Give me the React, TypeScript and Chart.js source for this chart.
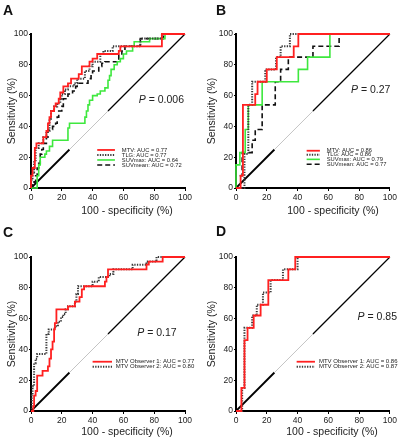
import React, { useEffect, useRef } from "react";
import { Chart, registerables } from "chart.js";
Chart.register(...registerables);

const FONT = "'Liberation Sans', Arial, Helvetica, sans-serif";
const TICKS = [0, 20, 40, 60, 80, 100];
const DIAG = [0, 25, 50, 100];

// Panel A (points where the curve rises: false-positive rate -> sensitivity)
const A_MTV_FPR = [0, 1, 2.5, 3.5, 8, 10, 11, 12, 13, 15, 16, 18, 19, 21, 24, 26, 31, 33, 38, 40, 43, 57, 58, 85, 100];
const A_MTV_TPR = [8, 13, 26, 29, 33, 37, 42, 46, 50, 53, 55, 58, 62, 66, 68, 71, 74, 79, 82, 84, 87, 89, 92, 100, 100];
const A_TLG_FPR = [0, 1, 2, 3, 5, 8, 10, 12, 13, 15, 17, 19, 20, 22, 24, 28, 30, 35, 38, 40, 45, 47, 53, 71, 85, 100];
const A_TLG_TPR = [5, 10, 18, 26, 29, 33, 37, 45, 50, 53, 55, 58, 61, 64, 66, 68, 71, 76, 79, 82, 87, 89, 92, 97, 100, 100];
const A_SUVMAX_FPR = [4, 5, 6, 9, 10, 12, 14, 24, 25, 34, 35, 36, 37, 38, 40, 43, 45, 48, 50, 51, 52, 54, 56, 58, 60, 62, 66, 67, 77, 87, 100];
const A_SUVMAX_TPR = [8, 15, 20, 22, 24, 27, 31, 39, 42, 42, 46, 50, 54, 57, 60, 61, 63, 65, 70, 73, 77, 80, 82, 84, 87, 89, 92, 95, 97, 100, 100];
const A_SUVMEAN_FPR = [1, 2, 3, 4, 5, 6, 7, 8, 10, 11, 14, 16, 17, 18, 20, 21, 24, 27, 29, 30, 37, 39, 40, 44, 46, 48, 57, 59, 61, 71, 86, 100];
const A_SUVMEAN_TPR = [2, 4, 8, 13, 16, 22, 25, 29, 33, 38, 40, 42, 46, 50, 53, 58, 61, 63, 66, 68, 71, 74, 76, 79, 81, 82, 86, 89, 92, 97, 100, 100];

// Panel B
const B_MTV_FPR = [3, 4.5, 12.5, 14, 20, 26.5, 37.5, 40.5, 100];
const B_MTV_TPR = [8, 54, 61, 69, 77, 85, 92, 100, 100];
const B_TLG_FPR = [5.5, 8, 10.5, 19, 26, 29, 35, 100];
const B_TLG_TPR = [22, 54, 69, 77, 85, 92, 100, 100];
const B_SUVMAX_FPR = [0, 2.5, 6, 8, 17, 40.5, 46.5, 61, 100];
const B_SUVMAX_TPR = [15, 23, 38, 54, 69, 77, 85, 100, 100];
const B_SUVMEAN_FPR = [0, 4, 10.5, 12.5, 17, 25.5, 29, 34, 50, 67, 100];
const B_SUVMEAN_TPR = [8, 23, 31, 38, 54, 69, 77, 85, 92, 100, 100];

// Panel C
const C_OBS1_FPR = [1.5, 2, 3, 4, 7.5, 11, 12, 13, 14, 15, 15.5, 16.5, 24, 28.5, 31.5, 33, 34.5, 48, 49, 50, 75, 76.5, 85.5, 100];
const C_OBS1_TPR = [3, 10, 13, 23, 26, 29, 34, 40, 45, 53, 57, 66, 68, 71, 74, 79, 81, 84, 87, 92, 95, 97, 100, 100];
const C_OBS2_FPR = [0.5, 1, 2, 3, 4, 10, 11.5, 15.5, 17.5, 19.5, 21, 22.5, 24, 28.5, 29.5, 30.5, 40, 44, 51, 53.5, 66, 75, 81.5, 100];
const C_OBS2_TPR = [10, 16, 31, 34, 37, 50, 53, 55, 58, 61, 63, 66, 68, 71, 76, 81, 84, 87, 89, 92, 95, 97, 100, 100];

// Panel D
const D_OBS1_FPR = [3.5, 5.5, 7.5, 11.5, 16, 21, 34, 38.5, 100];
const D_OBS1_TPR = [15, 46, 54, 62, 69, 85, 92, 100, 100];
const D_OBS2_FPR = [4, 5.5, 10.5, 13.5, 17.5, 22.5, 30.5, 40, 100];
const D_OBS2_TPR = [15, 54, 62, 69, 77, 85, 92, 100, 100];

const STYLE: any = {
  red: { color: "#ff2020", width: 1.8, dash: [] },
  dotted: { color: "#3a3a3a", width: 2, dash: [1.3, 1.3] },
  green: { color: "#3ee83e", width: 1.6, dash: [] },
  dashed: { color: "#111111", width: 1.6, dash: [5, 3] },
};

const PANELS: any[] = [
  {
    letter: "A", left: 0, top: 0, width: 199, letterX: 3, letterY: 15, yTitleX: 12, xTitleX: 127, xTitleY: 211,
    p: "0.006", pX: 0.70, pY: 0.43,
    legend: { x0: 0.43, x1: 0.545, tx: 0.59, rows: [0.753, 0.786, 0.818, 0.851], size: 5.8 },
    series: [
      { label: "MTV: AUC = 0.77", fpr: A_MTV_FPR, tpr: A_MTV_TPR, style: "red" },
      { label: "TLG: AUC = 0.77", fpr: A_TLG_FPR, tpr: A_TLG_TPR, style: "dotted" },
      { label: "SUVmax: AUC = 0.64", fpr: A_SUVMAX_FPR, tpr: A_SUVMAX_TPR, style: "green" },
      { label: "SUVmean: AUC = 0.72", fpr: A_SUVMEAN_FPR, tpr: A_SUVMEAN_TPR, style: "dashed" },
    ],
  },
  {
    letter: "B", left: 205, top: 0, width: 194, letterX: 11, letterY: 15, yTitleX: 7, xTitleX: 128, xTitleY: 211,
    p: "0.27", pX: 0.747, pY: 0.364,
    legend: { x0: 0.459, x1: 0.545, tx: 0.589, rows: [0.758, 0.784, 0.814, 0.846], size: 5.8 },
    series: [
      { label: "MTV: AUC = 0.86", fpr: B_MTV_FPR, tpr: B_MTV_TPR, style: "red" },
      { label: "TLG: AUC = 0.86", fpr: B_TLG_FPR, tpr: B_TLG_TPR, style: "dotted" },
      { label: "SUVmax: AUC = 0.79", fpr: B_SUVMAX_FPR, tpr: B_SUVMAX_TPR, style: "green" },
      { label: "SUVmean: AUC = 0.77", fpr: B_SUVMEAN_FPR, tpr: B_SUVMEAN_TPR, style: "dashed" },
    ],
  },
  {
    letter: "C", left: 0, top: 223, width: 199, letterX: 3, letterY: 14, yTitleX: 12, xTitleX: 127, xTitleY: 209,
    p: "0.17", pX: 0.69, pY: 0.496,
    legend: { x0: 0.40, x1: 0.526, tx: 0.55, rows: [0.68, 0.712], size: 6 },
    series: [
      { label: "MTV Observer 1: AUC = 0.77", fpr: C_OBS1_FPR, tpr: C_OBS1_TPR, style: "red" },
      { label: "MTV Observer 2: AUC = 0.80", fpr: C_OBS2_FPR, tpr: C_OBS2_TPR, style: "dotted" },
    ],
  },
  {
    letter: "D", left: 205, top: 223, width: 194, letterX: 11, letterY: 13, yTitleX: 7, xTitleX: 127, xTitleY: 209,
    p: "0.85", pX: 0.79, pY: 0.39,
    legend: { x0: 0.394, x1: 0.513, tx: 0.539, rows: [0.68, 0.712], size: 6 },
    series: [
      { label: "MTV Observer 1: AUC = 0.86", fpr: D_OBS1_FPR, tpr: D_OBS1_TPR, style: "red" },
      { label: "MTV Observer 2: AUC = 0.87", fpr: D_OBS2_FPR, tpr: D_OBS2_TPR, style: "dotted" },
    ],
  },
];

const HEIGHT = 217;
const AREA_RIGHT = 185;
const AREA_TOP = 34;
const AREA_BOTTOM = 188;

function toPoints(fpr: number[], tpr: number[]) {
  const pts = [{ x: 0, y: 0 }];
  for (let i = 0; i < fpr.length; i++) pts.push({ x: fpr[i], y: tpr[i] });
  return pts;
}

function Panel({ cfg }: { cfg: any }) {
  const ref = useRef<HTMLCanvasElement | null>(null);
  useEffect(() => {
    if (!ref.current) return;
    const datasets: any[] = cfg.series.map((s: any) => {
      const st = STYLE[s.style];
      return {
        label: s.label,
        data: toPoints(s.fpr, s.tpr),
        borderColor: st.color,
        borderWidth: st.width,
        borderDash: st.dash,
        stepped: "before",
        pointRadius: 0,
        fill: false,
        clip: false,
      };
    });
    datasets.push({
      label: "reference",
      data: DIAG.map((v) => ({ x: v, y: v })),
      borderColor: "#000",
      borderWidth: 1.5,
      pointRadius: 0,
      fill: false,
      clip: false,
      segment: {
        borderColor: (c: any) => (c.p0.parsed.x === 25 ? "#c4c4c4" : "#000"),
        borderWidth: (c: any) => (c.p0.parsed.x === 25 ? 1 : c.p0.parsed.x === 0 ? 1.8 : 1.2),
      },
    });

    const overlay = {
      id: "overlay",
      afterDraw(chart: any) {
        const ctx = chart.ctx;
        const a = chart.chartArea;
        const w = a.right - a.left;
        const h = a.bottom - a.top;
        ctx.save();
        ctx.fillStyle = "#111";
        // panel letter
        ctx.font = `bold 14px ${FONT}`;
        ctx.textAlign = "left";
        ctx.textBaseline = "alphabetic";
        ctx.fillText(cfg.letter, cfg.letterX, cfg.letterY);
        // x title
        ctx.font = `10.5px ${FONT}`;
        ctx.fillStyle = "#222";
        ctx.textAlign = "center";
        ctx.textBaseline = "middle";
        ctx.fillText("100 - specificity (%)", cfg.xTitleX, cfg.xTitleY);
        // y title
        ctx.save();
        ctx.translate(cfg.yTitleX, (a.top + a.bottom) / 2);
        ctx.rotate(-Math.PI / 2);
        ctx.fillText("Sensitivity (%)", 0, 0);
        ctx.restore();
        // P value
        const px = a.left + cfg.pX * w;
        const py = a.top + cfg.pY * h;
        ctx.textAlign = "left";
        ctx.font = `italic 10.5px ${FONT}`;
        ctx.fillText("P", px, py);
        const pw = ctx.measureText("P").width;
        ctx.font = `10.5px ${FONT}`;
        ctx.fillText(" = " + cfg.p, px + pw, py);
        // legend
        const lg = cfg.legend;
        cfg.series.forEach((s: any, i: number) => {
          const st = STYLE[s.style];
          const y = a.top + lg.rows[i] * h;
          ctx.beginPath();
          ctx.setLineDash(st.dash);
          ctx.strokeStyle = st.color;
          ctx.lineWidth = st.width;
          ctx.moveTo(a.left + lg.x0 * w, y);
          ctx.lineTo(a.left + lg.x1 * w, y);
          ctx.stroke();
          ctx.setLineDash([]);
          ctx.font = `${lg.size}px ${FONT}`;
          ctx.fillStyle = "#222";
          ctx.textBaseline = "middle";
          ctx.fillText(s.label, a.left + lg.tx * w, y);
        });
        ctx.restore();
      },
    };

    const axisCommon = (isX: boolean) => ({
      type: "linear",
      min: 0,
      max: 100,
      afterBuildTicks: (s: any) => {
        s.ticks = TICKS.map((v) => ({ value: v }));
      },
      afterFit: (s: any) => {
        if (isX) s.height = HEIGHT - AREA_BOTTOM;
        else s.width = 31;
      },
      ticks: {
        font: { size: 8.5, family: FONT },
        color: "#222",
        padding: isX ? 2 : 1,
        maxRotation: 0,
        autoSkip: false,
      },
      grid: { display: true, drawOnChartArea: false, drawTicks: true, tickLength: isX ? 3 : 2, color: "#000", lineWidth: 1 },
      border: { display: true, color: "#000", width: 2 },
    });

    const chart = new Chart(ref.current, {
      type: "line",
      data: { datasets },
      options: {
        animation: false,
        responsive: false,
        maintainAspectRatio: false,
        layout: { padding: { left: 0, right: cfg.width - AREA_RIGHT, top: AREA_TOP, bottom: 0 } },
        plugins: { legend: { display: false }, tooltip: { enabled: false }, title: { display: false } },
        elements: { point: { radius: 0 } },
        scales: { x: axisCommon(true) as any, y: axisCommon(false) as any },
      },
      plugins: [overlay],
    } as any);
    return () => chart.destroy();
  }, [cfg]);
  return (
    <canvas
      ref={ref}
      width={cfg.width}
      height={HEIGHT}
      style={{ position: "absolute", left: cfg.left, top: cfg.top, width: cfg.width, height: HEIGHT }}
    />
  );
}

export default function App() {
  return (
    <div style={{ position: "fixed", left: 0, top: 0, width: 399, height: 440, background: "#fff" }}>
      {PANELS.map((p) => (
        <Panel key={p.letter} cfg={p} />
      ))}
    </div>
  );
}
